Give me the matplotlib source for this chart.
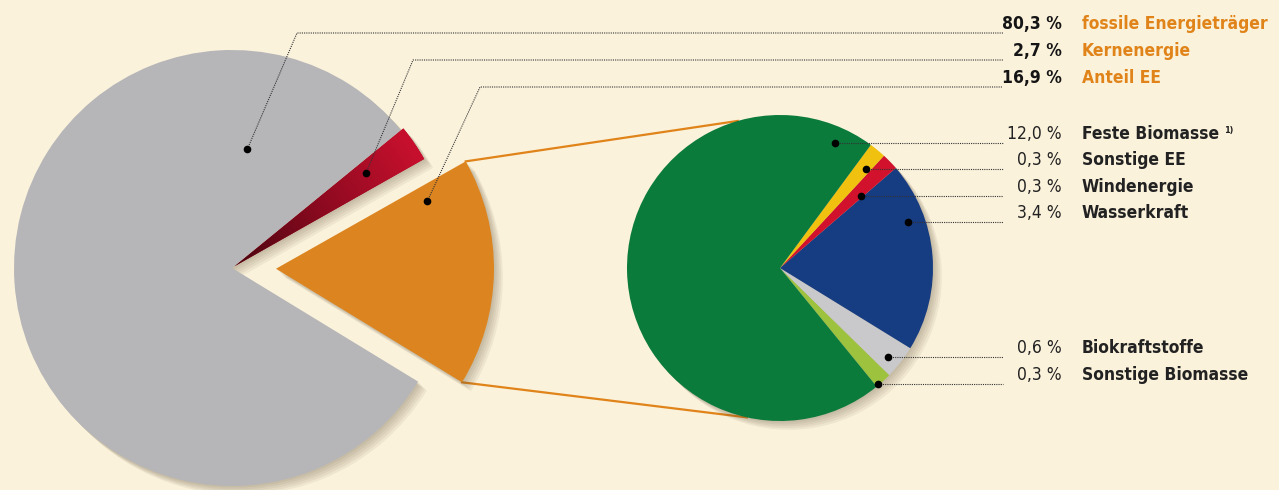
import numpy as np
import matplotlib
matplotlib.use("Agg")
import matplotlib.pyplot as plt
from matplotlib import font_manager as fm
from matplotlib.colors import LinearSegmentedColormap
from matplotlib.patches import Shadow

# --- data -------------------------------------------------------------------
main_values = [16.9, 2.7, 80.3]                       # counter-clockwise order
main_labels = ["Anteil EE", "Kernenergie", "fossile Energieträger"]
main_colors = ["#DC8520", "#A80C26", "#B6B6B8"]

ee_values = [0.3, 0.6, 3.4, 0.3, 0.3, 12.0]          # counter-clockwise order
ee_labels = ["Sonstige Biomasse", "Biokraftstoffe", "Wasserkraft",
             "Windenergie", "Sonstige EE", "Feste Biomasse"]
ee_colors = ["#9CC23E", "#C9C9CB", "#163C82", "#D2122C", "#F1C10F", "#0B7B3C"]

# label rows, top to bottom
top_order = [2, 1, 0]
ee_order = [5, 4, 3, 2, 1, 0]

# --- font: pick a narrow face if one is installed ---------------------------
entries = fm.fontManager.ttflist
have = {f.name for f in entries}
if "Liberation Sans Narrow" in have:
    FONT = dict(family="Liberation Sans Narrow")
    FS = 13.5
elif any(f.name == "DejaVu Sans" and "condensed" in str(f.stretch) for f in entries):
    FONT = dict(family="DejaVu Sans", stretch="condensed")
    FS = 12.5
else:
    FONT = dict(family="Roboto", stretch="condensed")
    FS = 12

# --- layout (pixel units, y up) ---------------------------------------------
W, H = 1279, 490
BG = "#FBF2DC"
ORANGE = "#E0841A"

fig = plt.figure(figsize=(W / 100, H / 100), dpi=100, facecolor=BG)
ax = fig.add_axes([0, 0, 1, 1])
ax.set_facecolor(BG)

# explode is given in data units (pixels here)
wedges_main, _ = ax.pie(main_values, colors=main_colors, startangle=-31.4,
                        center=(232, H - 268), radius=218,
                        explode=[44, 3, 0],
                        wedgeprops=dict(linewidth=0, zorder=3))
wedges_ee, _ = ax.pie(ee_values, colors=ee_colors, startangle=-50.8,
                      center=(780, H - 268), radius=153,
                      wedgeprops=dict(linewidth=0, zorder=3))

# soft drop shadows
for w in list(wedges_main) + list(wedges_ee):
    for k in range(5):
        off = 1.2 + 1.3 * k
        s = Shadow(w, off, -off, facecolor="#5a4a30", edgecolor="none",
                   alpha=0.07, zorder=2)
        ax.add_patch(s)

# dark-to-bright radial shading on the nuclear wedge
kw = wedges_main[1]
cx, cy = kw.center
gx = np.linspace(cx, cx + kw.r, 200)
gy = np.linspace(cy, cy + kw.r, 200)
XX, YY = np.meshgrid(gx, gy)
dist = np.hypot(XX - cx, YY - cy) / kw.r
cmap = LinearSegmentedColormap.from_list("kern", ["#4a0610", "#8e0a20", "#C8102E"])
im = ax.imshow(dist, extent=[gx[0], gx[-1], gy[0], gy[-1]], origin="lower",
               cmap=cmap, vmin=0, vmax=1, zorder=3.5, interpolation="bilinear")
im.set_clip_path(kw)

ax.set_xlim(0, W)
ax.set_ylim(0, H)
ax.set_aspect("equal")
ax.axis("off")


def wedge_point(w, t, rfrac):
    ang = np.deg2rad(w.theta1 + t * (w.theta2 - w.theta1))
    cx, cy = w.center
    return cx + rfrac * w.r * np.cos(ang), cy + rfrac * w.r * np.sin(ang)


def circle_point(w, ang_deg):
    cx, cy = w.center
    a = np.deg2rad(ang_deg)
    return cx + w.r * np.cos(a), cy + w.r * np.sin(a)


# orange connector lines from the EE wedge to the detail pie
ee_w = wedges_main[0]
p_top = circle_point(ee_w, ee_w.theta2)
p_bot = circle_point(ee_w, ee_w.theta1)
q_top = circle_point(wedges_ee[0], 106)
q_bot = circle_point(wedges_ee[0], 257.5)
ax.plot([p_top[0], q_top[0]], [p_top[1], q_top[1]], color=ORANGE, lw=1.6, zorder=1)
ax.plot([p_bot[0], q_bot[0]], [p_bot[1], q_bot[1]], color=ORANGE, lw=1.6, zorder=1)

line_end = 1003
num_x, name_x = 1062, 1082
dot_kw = dict(marker="o", ms=4.5, color="black", zorder=6)
lead_kw = dict(color="#333333", lw=0.8, ls=(0, (1, 1)), zorder=5)

# main pie labels
main_anchor = {2: (0.15, 0.55), 1: (0.6, 0.74), 0: (0.91, 0.76)}
main_rows = [24, 51, 78]
main_elbow_x = [297, 413, 480]
for row, idx, ex in zip(main_rows, top_order, main_elbow_x):
    px, py = wedge_point(wedges_main[idx], *main_anchor[idx])
    ly = H - row - 9
    ax.plot([px, ex, line_end], [py, ly, ly], **lead_kw)
    ax.plot(px, py, **dot_kw)
    ax.text(num_x, H - row, f"{main_values[idx]:.1f} %".replace(".", ","),
            ha="right", va="center", fontsize=FS, fontweight="bold",
            color="#151515", **FONT)
    ax.text(name_x, H - row, main_labels[idx], ha="left", va="center",
            fontsize=FS, fontweight="bold", color=ORANGE, **FONT)

# detail pie labels
ee_anchor = {5: (0.05, 0.89), 4: (0.3, 0.86), 3: (0.3, 0.72),
             2: (0.73, 0.9), 1: (0.45, 0.9), 0: (0.4, 0.96)}
ee_rows = [134, 160, 187, 213, 348, 375]
name_texts = {}
for row, idx in zip(ee_rows, ee_order):
    px, py = wedge_point(wedges_ee[idx], *ee_anchor[idx])
    ly = H - row - 9
    ax.plot([px, line_end], [ly, ly], **lead_kw)
    ax.plot(px, ly, **dot_kw)
    ax.text(num_x, H - row, f"{ee_values[idx]:.1f} %".replace(".", ","),
            ha="right", va="center", fontsize=FS, color="#222222", **FONT)
    name_texts[idx] = ax.text(name_x, H - row, ee_labels[idx], ha="left",
                              va="center", fontsize=FS, fontweight="bold",
                              color="#222222", **FONT)

# footnote marker after "Feste Biomasse"
fig.canvas.draw()
bb = name_texts[5].get_window_extent().transformed(ax.transData.inverted())
ax.text(bb.x1 + 5, bb.y1 - 1, "1)", ha="left", va="top", fontsize=6.5,
        fontweight="bold", color="#222222", **FONT)

fig.savefig("out.png", dpi=100, facecolor=BG)
